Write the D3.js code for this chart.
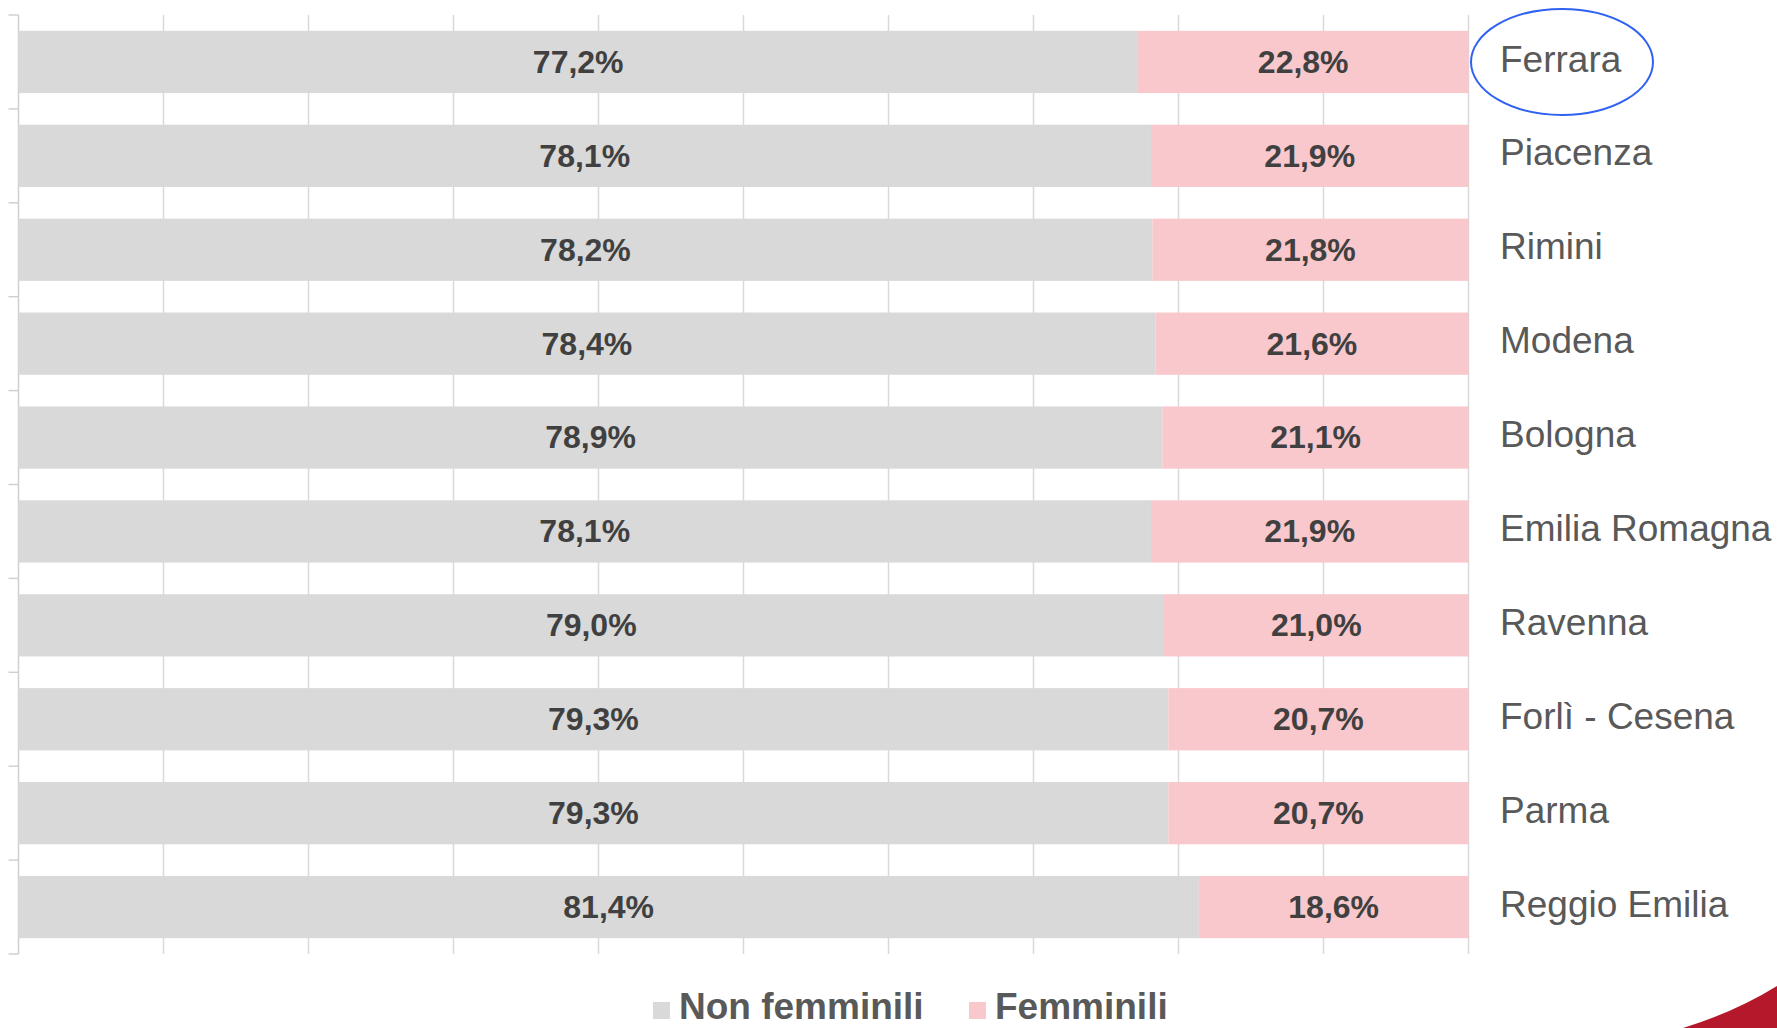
<!DOCTYPE html>
<html>
<head>
<meta charset="utf-8">
<script src="https://cdn.jsdelivr.net/npm/d3@7"></script>
<style>
  html, body { margin: 0; padding: 0; background: #fff; }
  svg { display: block; font-family: "Liberation Sans", Arial, sans-serif; }
</style>
</head>
<body>
<svg width="1777" height="1028"></svg>
<script>
const provinces = ['Ferrara', 'Piacenza', 'Rimini', 'Modena', 'Bologna', 'Emilia Romagna', 'Ravenna', 'Forlì - Cesena', 'Parma', 'Reggio Emilia'];
const nonFemminili = [77.2, 78.1, 78.2, 78.4, 78.9, 78.1, 79.0, 79.3, 79.3, 81.4];
const femminili = [22.8, 21.9, 21.8, 21.6, 21.1, 21.9, 21.0, 20.7, 20.7, 18.6];
const seriesNames = ['Non femminili', 'Femminili'];
const xTicks = [0, 10, 20, 30, 40, 50, 60, 70, 80, 90, 100];

const colors = ['#d9d9d9', '#f8c8cc'];
const fmt = v => v.toFixed(1).replace('.', ',') + '%';

const svg = d3.select('svg');

const data = provinces.map((p, i) => ({ name: p, a: nonFemminili[i], b: femminili[i] }));

const xScale = d3.scaleLinear().domain([0, 100]).range([18.5, 1468.5]);
const yScale = d3.scaleBand()
  .domain(provinces)
  .range([15, 954])
  .paddingInner(0.337)
  .paddingOuter(0.337 / 2);

// vertical gridlines
svg.append('g').selectAll('line')
  .data(xTicks.slice(1))
  .enter().append('line')
  .attr('x1', d => xScale(d)).attr('x2', d => xScale(d))
  .attr('y1', 15).attr('y2', 954)
  .attr('stroke', '#d9d9d9')
  .attr('stroke-width', 1.5);

// left category axis with outward ticks at band boundaries
const half = yScale.step() * yScale.paddingInner() / 2;
const bounds = provinces.map(p => yScale(p) - half).concat([yScale(provinces[provinces.length - 1]) + yScale.bandwidth() + half]);
const axisG = svg.append('g');
axisG.append('line')
  .attr('x1', xScale(0)).attr('x2', xScale(0))
  .attr('y1', 15).attr('y2', 954)
  .attr('stroke', '#d0d0d0').attr('stroke-width', 1.5);
axisG.selectAll('line.tick')
  .data(bounds)
  .enter().append('line')
  .attr('class', 'tick')
  .attr('x1', xScale(0) - 10).attr('x2', xScale(0))
  .attr('y1', d => d).attr('y2', d => d)
  .attr('stroke', '#d0d0d0').attr('stroke-width', 1.5);

// bars
const rows = svg.append('g').selectAll('g.bar')
  .data(data)
  .enter().append('g')
  .attr('class', 'bar')
  .attr('transform', d => `translate(0,${yScale(d.name)})`);

rows.append('rect')
  .attr('x', xScale(0))
  .attr('width', d => xScale(d.a) - xScale(0))
  .attr('height', yScale.bandwidth())
  .attr('fill', colors[0]);

rows.append('rect')
  .attr('x', d => xScale(d.a))
  .attr('width', d => xScale(d.a + d.b) - xScale(d.a))
  .attr('height', yScale.bandwidth())
  .attr('fill', colors[1]);

rows.append('text')
  .attr('x', d => (xScale(0) + xScale(d.a)) / 2)
  .attr('y', yScale.bandwidth() / 2)
  .attr('dy', '.34em')
  .attr('text-anchor', 'middle')
  .attr('font-size', 32)
  .attr('font-weight', 'bold')
  .attr('fill', '#404040')
  .text(d => fmt(d.a));

rows.append('text')
  .attr('x', d => (xScale(d.a) + xScale(d.a + d.b)) / 2)
  .attr('y', yScale.bandwidth() / 2)
  .attr('dy', '.34em')
  .attr('text-anchor', 'middle')
  .attr('font-size', 32)
  .attr('font-weight', 'bold')
  .attr('fill', '#404040')
  .text(d => fmt(d.b));

// category labels on the right
rows.append('text')
  .attr('x', 1500)
  .attr('y', yScale.bandwidth() / 2)
  .attr('dy', '.26em')
  .attr('font-size', 37)
  .attr('fill', '#595959')
  .text(d => d.name);

// highlight ellipse around Ferrara
svg.append('ellipse')
  .attr('cx', 1562)
  .attr('cy', yScale('Ferrara') + yScale.bandwidth() / 2)
  .attr('rx', 91)
  .attr('ry', 53)
  .attr('fill', 'none')
  .attr('stroke', '#2f62f0')
  .attr('stroke-width', 2);

// legend
const legendX = [653, 969];
const legend = svg.append('g').selectAll('g')
  .data(seriesNames)
  .enter().append('g')
  .attr('transform', (d, i) => `translate(${legendX[i]},0)`);
legend.append('rect')
  .attr('y', 1002).attr('width', 17).attr('height', 17)
  .attr('fill', (d, i) => colors[i]);
legend.append('text')
  .attr('x', 26).attr('y', 1019)
  .attr('font-size', 37)
  .attr('font-weight', 'bold')
  .attr('fill', '#595959')
  .text(d => d);

// slide decoration bottom right
svg.append('path')
  .attr('d', 'M1683,1028 Q1735,1012 1777,986 L1777,1028 Z')
  .attr('fill', '#b5172b');
</script>
</body>
</html>
